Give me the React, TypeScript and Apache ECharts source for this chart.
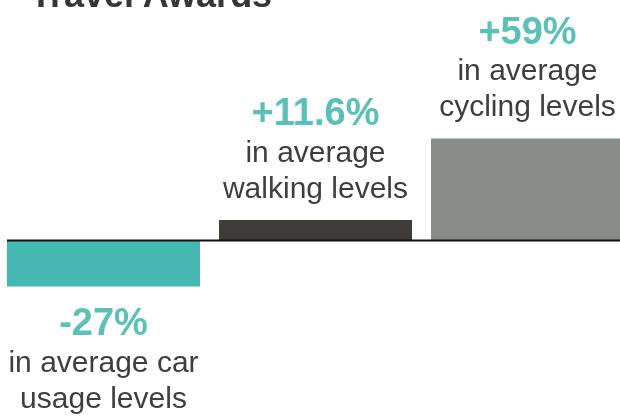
import React, { useEffect, useRef } from "react";
import * as echarts from "echarts";

const categories = ["car", "walking", "cycling"];
const changes = [-27, 11.6, 59];
const valueLabels = ["-27%", "+11.6%", "+59%"];
const descFirst = ["in average car", "in average", "in average"];
const descSecond = ["usage levels", "walking levels", "cycling levels"];
const barColors = ["#45b9b1", "#3d3c38", "#878c89"];
const titleText = "Travel Awards";

export default function App() {
  const ref = useRef<HTMLDivElement>(null);
  useEffect(() => {
    const chart = echarts.init(ref.current!, null, { renderer: "svg" });
    const font = "'Liberation Sans', Arial, sans-serif";
    chart.setOption({
      animation: false,
      grid: {
        left: -2.5,
        width: 636,
        top: 68,
        height: 309.6,
        outerBoundsMode: "none",
        containLabel: false,
      },
      xAxis: { type: "category", data: categories, show: false },
      yAxis: { type: "value", min: -80, max: 100, show: false },
      series: [
        {
          type: "bar",
          barWidth: 193,
          data: changes.map((v, i) => ({
            value: v,
            itemStyle: { color: barColors[i] },
            label: {
              show: true,
              position: v < 0 ? "bottom" : "top",
              distance: 15,
              formatter: `{v|${valueLabels[i]}}\n{t|${descFirst[i]}}\n{t|${descSecond[i]}}`,
              rich: {
                v: {
                  fontFamily: font,
                  fontWeight: "bold",
                  fontSize: 38,
                  lineHeight: 42,
                  color: "#5bc0b7",
                  align: "center",
                },
                t: {
                  fontFamily: font,
                  fontSize: 30,
                  lineHeight: 36,
                  color: "#3e3e3e",
                  align: "center",
                },
              },
            },
          })),
        },
      ],
    });
    const y0 = chart.convertToPixel({ yAxisIndex: 0 }, 0) as number;
    chart.setOption({
      graphic: [
        {
          type: "line",
          z: 100,
          shape: { x1: 7, y1: y0 + 0.5, x2: 620, y2: y0 + 0.5 },
          style: { stroke: "#111111", lineWidth: 2 },
        },
        {
          type: "text",
          x: 30,
          y: -6,
          style: {
            text: titleText,
            font: `bold 36px ${font}`,
            fill: "#363636",
            verticalAlign: "middle",
            align: "left",
          },
        },
      ],
    });
    return () => chart.dispose();
  }, []);
  return (
    <div
      ref={ref}
      style={{ position: "fixed", left: 0, top: 0, width: 620, height: 420 }}
    />
  );
}
